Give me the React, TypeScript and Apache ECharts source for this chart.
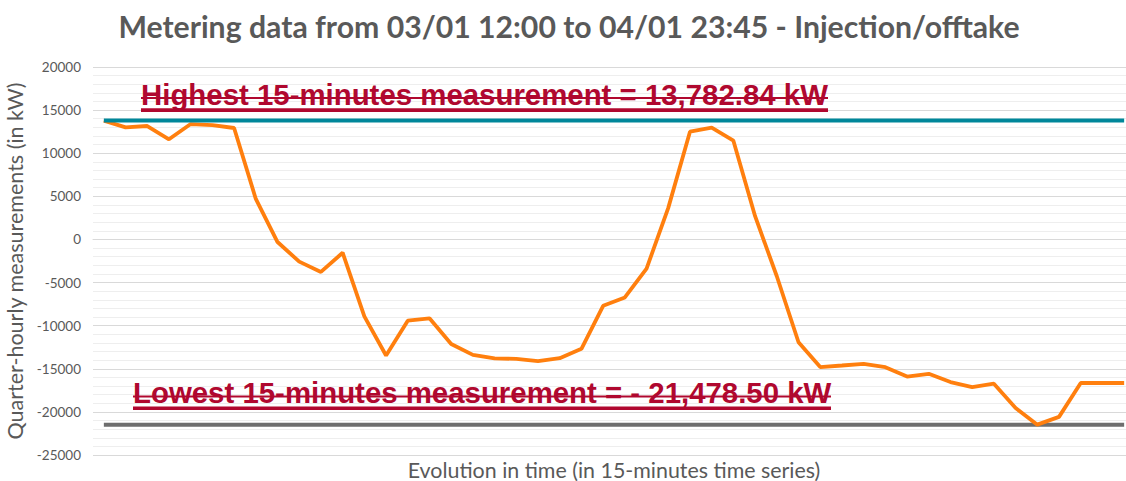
import React, { useEffect, useRef } from "react";
import * as echarts from "echarts";

const TITLE = "Metering data from 03/01 12:00 to 04/01 23:45 - Injection/offtake";
const Y_AXIS_NAME = "Quarter-hourly measurements (in kW)";
const X_AXIS_NAME = "Evolution in time (in 15-minutes time series)";
const HIGH_LABEL = "Highest 15-minutes measurement = 13,782.84 kW";
const LOW_LABEL = "Lowest 15-minutes measurement = - 21,478.50 kW";

const measurements: number[] = [
  13782.84, 13005, 13155, 11620, 13386, 13270, 12925, 4697, -300, -2575,
  -3770, -1540, -8920, -13460, -9420, -9150, -12120, -13390, -13800, -13850,
  -14115, -13770, -12690, -7700, -6730, -3380, 3660, 12500, 12960, 11450,
  2700, -4270, -11920, -14800, -14620, -14425, -14810, -15900, -15580, -16540,
  -17120, -16730, -19540, -21478.5, -20580, -16650, -16650, -16650,
];

const highest = 13782.84;
const lowest = -21478.5;

const categories: string[] = measurements.map((_, i) => String(i + 1));
const highLine: number[] = measurements.map(() => highest);
const lowLine: number[] = measurements.map(() => lowest);

const GREY = "#595959";
const RED = "#B0082F";

export default function App() {
  const ref = useRef<HTMLDivElement>(null);
  useEffect(() => {
    if (!ref.current) return;
    const chart = echarts.init(ref.current, null, { renderer: "svg" });
    chart.setOption({
      animation: false,
      backgroundColor: "#ffffff",
      title: {
        text: TITLE,
        left: 564,
        top: 6,
        textAlign: "center",
        textStyle: {
          fontFamily: "Lato",
          fontWeight: "bold",
          fontSize: 30.2,
          color: GREY,
        },
      },
      grid: { left: 93, top: 67, width: 1042, height: 388, outerBoundsMode: "none", containLabel: false },
      xAxis: {
        type: "category",
        data: categories,
        boundaryGap: true,
        axisLabel: { show: false },
        axisTick: { show: false },
        axisLine: { show: true, lineStyle: { color: "#D9D9D9", width: 1 } },
        name: X_AXIS_NAME,
        nameLocation: "middle",
        nameGap: 4,
        nameTextStyle: { fontFamily: "Lato", fontSize: 21.4, color: GREY },
      },
      yAxis: {
        type: "value",
        min: -25000,
        max: 20000,
        interval: 5000,
        axisLine: { show: false },
        axisTick: { show: false },
        axisLabel: {
          fontFamily: "Lato",
          fontSize: 13.5,
          color: GREY,
          margin: 12,
          formatter: (v: number) => String(v),
        },
        splitLine: { show: true, lineStyle: { color: "#D9D9D9", width: 1 } },
        minorTick: { show: false, splitNumber: 5 },
        minorSplitLine: { show: true, lineStyle: { color: "#EEEEEE", width: 1 } },
        name: Y_AXIS_NAME,
        nameLocation: "middle",
        nameGap: 51,
        nameRotate: 90,
        nameTextStyle: { fontFamily: "Lato", fontSize: 21.5, color: GREY },
      },
      series: [
        {
          name: "Measurements",
          type: "line",
          data: measurements,
          symbol: "none",
          lineStyle: { color: "#FF7F0E", width: 3.8 },
          z: 3,
        },
        {
          name: "Highest",
          type: "line",
          data: highLine,
          symbol: "none",
          lineStyle: { color: "#00879A", width: 4 },
          z: 4,
        },
        {
          name: "Lowest",
          type: "line",
          data: lowLine,
          symbol: "none",
          lineStyle: { color: "#6E6E6E", width: 4 },
          z: 2,
        },
      ],
      graphic: [
        {
          type: "text",
          x: 141,
          y: 94.8,
          z: 10,
          style: {
            text: HIGH_LABEL,
            fontFamily: "Liberation Sans",
            fontWeight: "bold",
            fontSize: 29.4,
            fill: RED,
            verticalAlign: "middle",
            align: "left",
          },
        },
        { type: "rect", z: 10, shape: { x: 141, y: 97, width: 687, height: 2 }, style: { fill: RED } },
        { type: "rect", z: 10, shape: { x: 141, y: 108.3, width: 687, height: 3.6 }, style: { fill: RED } },
        {
          type: "text",
          x: 133,
          y: 392.5,
          z: 10,
          style: {
            text: LOW_LABEL,
            fontFamily: "Liberation Sans",
            fontWeight: "bold",
            fontSize: 29.4,
            fill: RED,
            verticalAlign: "middle",
            align: "left",
          },
        },
        { type: "rect", z: 10, shape: { x: 133, y: 395.5, width: 698, height: 2 }, style: { fill: RED } },
        { type: "rect", z: 10, shape: { x: 133, y: 406.5, width: 698, height: 3.6 }, style: { fill: RED } },
      ],
    });
    return () => chart.dispose();
  }, []);
  return (
    <div
      ref={ref}
      style={{ position: "fixed", left: 0, top: 0, width: 1126, height: 481, overflow: "hidden" }}
    />
  );
}
